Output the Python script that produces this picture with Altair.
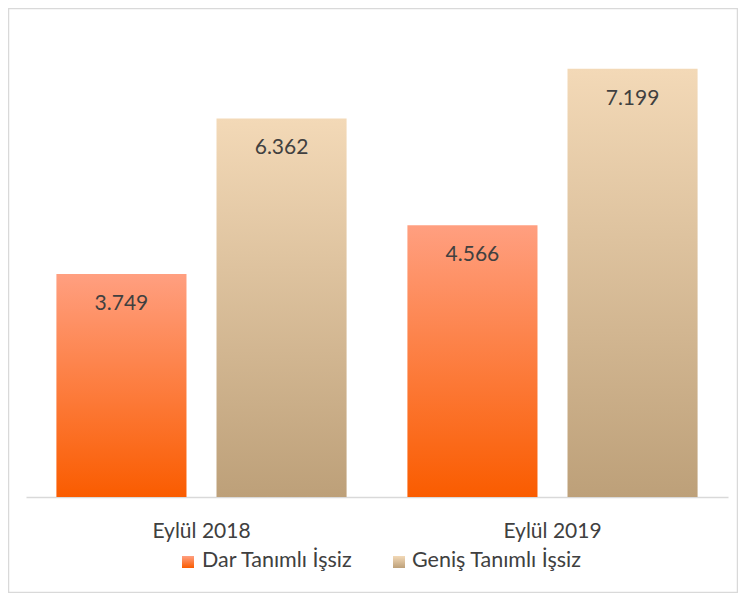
import altair as alt
import pandas as pd

categories = ["Eylül 2018", "Eylül 2019"]
series = ["Dar Tanımlı İşsiz", "Geniş Tanımlı İşsiz"]
dar = [3749, 4566]
genis = [6362, 7199]

rows = []
for i, c in enumerate(categories):
    rows.append({"cat": c, "series": series[0], "v": dar[i]})
    rows.append({"cat": c, "series": series[1], "v": genis[i]})
df = pd.DataFrame(rows)

FONT = "Lato"
TXT = "#404040"


def grad(top, bottom):
    return alt.LinearGradient(
        gradient="linear", x1=0, x2=0, y1=0, y2=1,
        stops=[alt.GradientStop(color=top, offset=0), alt.GradientStop(color=bottom, offset=1)],
    )


grad_dar = grad("#FF9F80", "#FA5C00")
grad_gen = grad("#F3D9B7", "#BDA079")

base = alt.Chart(df).encode(
    x=alt.X(
        "cat:N", sort=categories,
        scale=alt.Scale(paddingInner=0, paddingOuter=0),
        axis=alt.Axis(title=None, labelAngle=0, ticks=False, labelFontSize=21,
                      labelColor=TXT, labelFont=FONT, labelPadding=23,
                      domainColor="#d9d9d9", domainWidth=1.3),
    ),
    xOffset=alt.XOffset("series:N", sort=series,
                        scale=alt.Scale(paddingInner=0.1875, paddingOuter=0.19)),
    y=alt.Y("v:Q", scale=alt.Scale(domain=[0, 8000]), axis=None),
)

bars_dar = base.transform_filter(alt.datum.series == series[0]).mark_bar(color=grad_dar)
bars_gen = base.transform_filter(alt.datum.series == series[1]).mark_bar(color=grad_gen)

labels = base.transform_calculate(
    lbl="replace(format(datum.v, ','), ',', '.')"
).mark_text(dy=30, baseline="middle", fontSize=21, color=TXT, font=FONT).encode(text="lbl:N")

leg1_box = alt.Chart(pd.DataFrame({"s": [series[0]]})).mark_rect(color=grad_dar).encode(
    x=alt.value(156), x2=alt.value(168), y=alt.value(535), y2=alt.value(547))
leg1_txt = alt.Chart(pd.DataFrame({"s": [series[0]]})).mark_text(
    align="left", baseline="middle", fontSize=21.5, color=TXT, font=FONT).encode(
    text="s:N", x=alt.value(176), y=alt.value(540))
leg2_box = alt.Chart(pd.DataFrame({"s": [series[1]]})).mark_rect(color=grad_gen).encode(
    x=alt.value(367), x2=alt.value(379), y=alt.value(535), y2=alt.value(547))
leg2_txt = alt.Chart(pd.DataFrame({"s": [series[1]]})).mark_text(
    align="left", baseline="middle", fontSize=21.5, color=TXT, font=FONT).encode(
    text="s:N", x=alt.value(386), y=alt.value(540))

border = alt.Chart(pd.DataFrame({"a": [0]})).mark_rect(
    fill="transparent", stroke="#d9d9d9", strokeWidth=1.5).encode(
    x=alt.value(-17.5), x2=alt.value(711.5), y=alt.value(-12.5), y2=alt.value(571.5))

chart = alt.layer(
    border, bars_dar, bars_gen, labels, leg1_box, leg1_txt, leg2_box, leg2_txt
).properties(
    width=702, height=476,
    autosize=alt.AutoSizeParams(type="none"),
    padding={"left": 18, "top": 13, "right": 10, "bottom": 96},
    background="white",
).configure_view(strokeWidth=0)

chart.save("out.html", embed_options={"renderer": "svg", "actions": False})
